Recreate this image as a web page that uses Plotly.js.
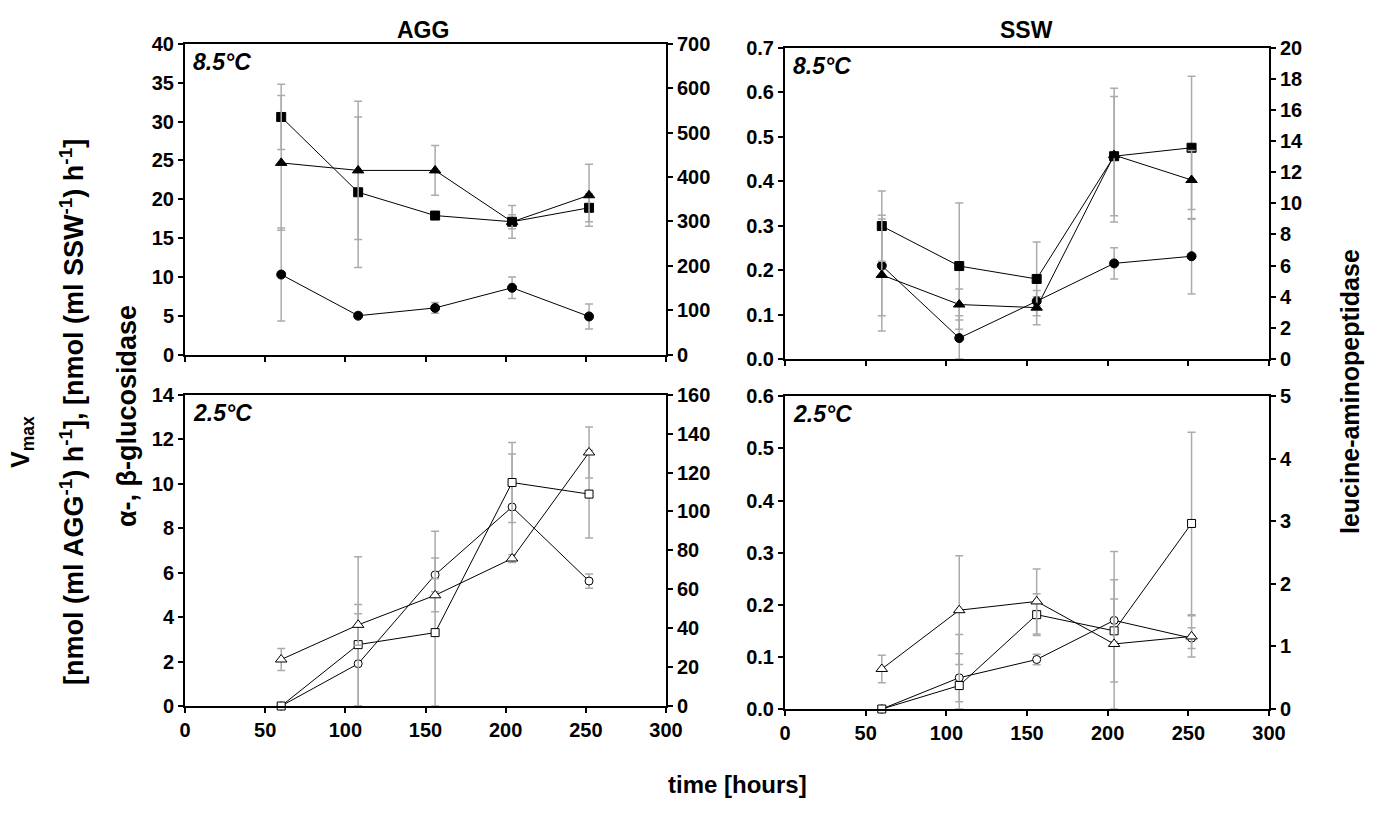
<!DOCTYPE html>
<html>
<head>
<meta charset="utf-8">
<script src="https://cdn.plot.ly/plotly-3.0.1.min.js"></script>
<style>html,body{margin:0;padding:0;background:#fff;}#chart{width:1376px;height:821px;}</style>
</head>
<body>
<div id="chart"></div>
<script>
// ---- data ----
const time = [60, 108, 156, 204, 252];

// AGG 8.5 °C (left axis: circle, square; right axis: triangle)
const agg85Circle = [10.3, 5.0, 6.0, 8.6, 4.9];
const agg85CircleErr = [6.0, 0.3, 0.7, 1.4, 1.6];
const agg85Square = [30.6, 20.9, 17.9, 17.1, 18.9];
const agg85SquareErr = [4.2, 9.7, 0.3, 0.9, 1.8];
const agg85Triangle = [432, 415, 415, 299, 359];
const agg85TriangleErr = [152, 156, 56, 37, 70];

// SSW 8.5 °C
const ssw85Circle = [0.210, 0.047, 0.130, 0.215, 0.231];
const ssw85CircleErr = [0.113, 0.05, 0.01, 0.035, 0.085];
const ssw85Square = [0.299, 0.209, 0.180, 0.456, 0.475];
const ssw85SquareErr = [0.079, 0.142, 0.083, 0.134, 0.161];
const ssw85Triangle = [5.4, 3.5, 3.3, 13.1, 11.5];
const ssw85TriangleErr = [3.6, 1.0, 1.1, 4.3, 1.9];

// AGG 2.5 °C
const agg25Circle = [0, 1.90, 5.90, 8.95, 5.62];
const agg25CircleErr = [0, 2.25, 0.76, 2.38, 0.32];
const agg25Square = [0, 2.76, 3.30, 10.05, 9.53];
const agg25SquareErr = [0, 3.95, 4.56, 1.8, 1.97];
const agg25Triangle = [23.9, 41.7, 56.9, 75.8, 130.3];
const agg25TriangleErr = [5.7, 10.5, 8.5, 2, 13.1];

// SSW 2.5 °C
const ssw25Circle = [0, 0.060, 0.095, 0.170, 0.136];
const ssw25CircleErr = [0, 0.046, 0.01, 0.041, 0.02];
const ssw25Square = [0, 0.045, 0.181, 0.150, 0.356];
const ssw25SquareErr = [0, 0.098, 0.04, 0.098, 0.175];
const ssw25Triangle = [0.64, 1.58, 1.72, 1.04, 1.16];
const ssw25TriangleErr = [0.22, 0.87, 0.52, 1.48, 0.33];

// tick values
const xTicks = [0, 50, 100, 150, 200, 250, 300];
const aggWarmLeftTicks = [0, 5, 10, 15, 20, 25, 30, 35, 40];
const aggWarmRightTicks = [0, 100, 200, 300, 400, 500, 600, 700];
const sswWarmLeftTicks = [0, 0.1, 0.2, 0.3, 0.4, 0.5, 0.6, 0.7];
const sswWarmRightTicks = [0, 2, 4, 6, 8, 10, 12, 14, 16, 18, 20];
const aggColdLeftTicks = [0, 2, 4, 6, 8, 10, 12, 14];
const aggColdRightTicks = [0, 20, 40, 60, 80, 100, 120, 140, 160];
const sswColdLeftTicks = [0, 0.1, 0.2, 0.3, 0.4, 0.5, 0.6];
const sswColdRightTicks = [0, 1, 2, 3, 4, 5];

// ---- styling helpers ----
const FONT = 'Liberation Sans, Arial, sans-serif';
const ERRCOL = '#ababab';

function mk(symbol, filled) {
  const sizes = {circle: filled ? 9 : 8, square: filled ? 9 : 8, 'triangle-up': 10};
  return {
    symbol: symbol,
    size: sizes[symbol],
    color: filled ? '#000' : '#fff',
    line: {color: '#000', width: 1}
  };
}
function err(vals, e) {
  return {
    type: 'data', symmetric: false,
    array: e,
    arrayminus: e.map((v, i) => Math.min(v, vals[i])),
    color: ERRCOL, thickness: 1.5, width: 4
  };
}
function tr(vals, e, symbol, filled, xa, ya) {
  return {
    x: time, y: vals, type: 'scatter', mode: 'lines+markers',
    xaxis: xa, yaxis: ya,
    line: {color: '#000', width: 1},
    marker: mk(symbol, filled),
    error_y: err(vals, e),
    cliponaxis: false, showlegend: false, hoverinfo: 'x+y'
  };
}

const data = [
  tr(agg85Circle, agg85CircleErr, 'circle', true, 'x', 'y'),
  tr(agg85Square, agg85SquareErr, 'square', true, 'x', 'y'),
  tr(agg85Triangle, agg85TriangleErr, 'triangle-up', true, 'x', 'y2'),

  tr(ssw85Circle, ssw85CircleErr, 'circle', true, 'x2', 'y3'),
  tr(ssw85Square, ssw85SquareErr, 'square', true, 'x2', 'y3'),
  tr(ssw85Triangle, ssw85TriangleErr, 'triangle-up', true, 'x2', 'y4'),

  tr(agg25Circle, agg25CircleErr, 'circle', false, 'x3', 'y5'),
  tr(agg25Square, agg25SquareErr, 'square', false, 'x3', 'y5'),
  tr(agg25Triangle, agg25TriangleErr, 'triangle-up', false, 'x3', 'y6'),

  tr(ssw25Circle, ssw25CircleErr, 'circle', false, 'x4', 'y7'),
  tr(ssw25Square, ssw25SquareErr, 'square', false, 'x4', 'y7'),
  tr(ssw25Triangle, ssw25TriangleErr, 'triangle-up', false, 'x4', 'y8')
];

const W = 1376, H = 821;
const dx = (a, b) => [a / W, b / W];
const dy = (top, bot) => [1 - bot / H, 1 - top / H];
const tickFont = {family: FONT, size: 20, color: '#000'};
const bold = (vals, dec) => vals.map(v => '<b>' + (dec ? v.toFixed(dec) : String(v)) + '</b>');

function xax(domain, anchor, labels) {
  return {
    domain: domain, anchor: anchor, range: [0, 300],
    tickmode: 'array', tickvals: xTicks, ticktext: bold(xTicks, 0), showticklabels: labels,
    ticks: 'outside', ticklen: 5, tickwidth: 2, tickcolor: '#000',
    showline: true, linewidth: 2, linecolor: '#000', mirror: true,
    showgrid: false, zeroline: false, tickfont: tickFont, fixedrange: true
  };
}
function yax(domain, anchor, range, ticks, dec, side, overlay) {
  const o = {
    anchor: anchor, range: range,
    tickmode: 'array', tickvals: ticks, ticktext: bold(ticks, dec), side: side,
    ticks: 'outside', ticklen: 5, tickwidth: 2, tickcolor: '#000',
    showline: true, linewidth: 2, linecolor: '#000',
    showgrid: false, zeroline: false, tickfont: tickFont, fixedrange: true
  };
  if (overlay) o.overlaying = overlay; else o.domain = domain;
  return o;
}

const xL = dx(185, 666), xR = dx(785, 1269);
const yT1 = dy(44, 354.5), yT2 = dy(47.7, 359), yB1 = dy(394.7, 706), yB2 = dy(396.3, 709);

const titleFont = {family: FONT, size: 23, color: '#000'};
const tempFont = {family: FONT, size: 23, color: '#000'};
const sideFont = {family: FONT, size: 25, color: '#000'};

function side(text, px, py, size) {
  return {text: text, x: px / W, y: 1 - py / H, xref: 'paper', yref: 'paper',
          xanchor: 'center', yanchor: 'middle', textangle: -90, showarrow: false,
          font: {family: FONT, size: size, color: '#000'}};
}

const layout = {
  width: W, height: H,
  margin: {l: 0, r: 0, t: 0, b: 0},
  paper_bgcolor: '#fff', plot_bgcolor: 'rgba(0,0,0,0)',
  font: {family: FONT, color: '#000'},
  showlegend: false,
  xaxis: xax(xL, 'y', false),
  xaxis2: xax(xR, 'y3', false),
  xaxis3: xax(xL, 'y5', true),
  xaxis4: xax(xR, 'y7', true),
  yaxis: yax(yT1, 'x', [0, 40], aggWarmLeftTicks, 0, 'left'),
  yaxis2: yax(null, 'x', [0, 700], aggWarmRightTicks, 0, 'right', 'y'),
  yaxis3: yax(yT2, 'x2', [0, 0.7], sswWarmLeftTicks, 1, 'left'),
  yaxis4: yax(null, 'x2', [0, 20], sswWarmRightTicks, 0, 'right', 'y3'),
  yaxis5: yax(yB1, 'x3', [0, 14], aggColdLeftTicks, 0, 'left'),
  yaxis6: yax(null, 'x3', [0, 160], aggColdRightTicks, 0, 'right', 'y5'),
  yaxis7: yax(yB2, 'x4', [0, 0.6], sswColdLeftTicks, 1, 'left'),
  yaxis8: yax(null, 'x4', [0, 5], sswColdRightTicks, 0, 'right', 'y7'),
  annotations: [
    {text: '<b>AGG</b>', x: 423 / W, y: 1 - 15 / H, xref: 'paper', yref: 'paper', xanchor: 'center', showarrow: false, font: titleFont},
    {text: '<b>SSW</b>', x: 1026 / W, y: 1 - 15 / H, xref: 'paper', yref: 'paper', xanchor: 'center', showarrow: false, font: titleFont},
    {text: '<b><i>8.5°C</i></b>', x: 0.012, y: 0.99, xref: 'x domain', yref: 'y domain', xanchor: 'left', yanchor: 'top', showarrow: false, font: tempFont},
    {text: '<b><i>8.5°C</i></b>', x: 0.012, y: 0.99, xref: 'x2 domain', yref: 'y3 domain', xanchor: 'left', yanchor: 'top', showarrow: false, font: tempFont},
    {text: '<b><i>2.5°C</i></b>', x: 0.012, y: 0.99, xref: 'x3 domain', yref: 'y5 domain', xanchor: 'left', yanchor: 'top', showarrow: false, font: tempFont},
    {text: '<b><i>2.5°C</i></b>', x: 0.012, y: 0.99, xref: 'x4 domain', yref: 'y7 domain', xanchor: 'left', yanchor: 'top', showarrow: false, font: tempFont},
    side('<b>V<sub>max</sub></b>', 22, 442, 25),
    side('<b>[nmol (ml AGG<sup>-1</sup>) h<sup>-1</sup>], [nmol (ml SSW<sup>-1</sup>) h<sup>-1</sup>]</b>', 72, 412, 27),
    side('<b>α-, β-glucosidase</b>', 127, 416, 27),
    side('<b>leucine-aminopeptidase</b>', 1350, 392, 25),
    {text: '<b>time [hours]</b>', x: 738 / W, y: 1 - 800 / H, xref: 'paper', yref: 'paper', xanchor: 'center', showarrow: false, font: {family: FONT, size: 24, color: '#000'}}
  ]
};

Plotly.newPlot('chart', data, layout, {displayModeBar: false, staticPlot: true});
</script>
</body>
</html>
